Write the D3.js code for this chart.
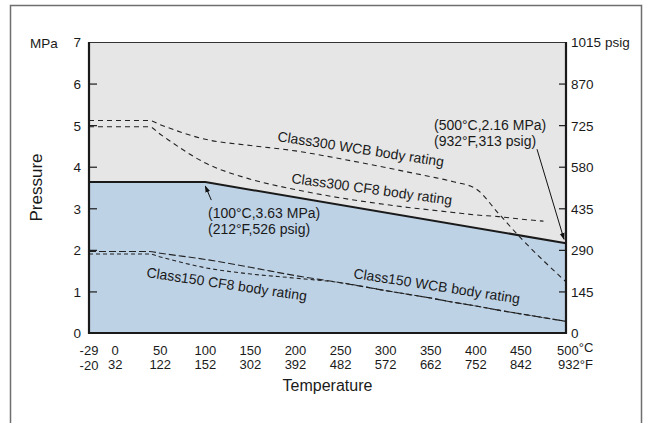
<!DOCTYPE html>
<html><head><meta charset="utf-8">
<script src="https://cdn.jsdelivr.net/npm/d3@7"></script>
<style>
html,body{margin:0;padding:0;background:#fff;}
svg{display:block;font-family:"Liberation Sans",Arial,Helvetica,sans-serif;}
</style></head>
<body>
<svg id="chart" width="648" height="423"></svg>
<script>
// ---- data ----
const tempTicksC = [-29, 0, 50, 100, 150, 200, 250, 300, 350, 400, 450, 500];
const tempTicksF = ["-20", "32", "122", "152", "302", "392", "482", "572", "662", "752", "842", "932"];
const mpaTicks = [0, 1, 2, 3, 4, 5, 6, 7];
const psigTicks = [0, 145, 290, 435, 580, 725, 870, 1015];

const class300Temp = [-29, 100, 500];
const class300Rating = [3.63, 3.63, 2.16];

const wcb300Temp = [-29, 38, 50, 100, 150, 200, 250, 300, 325, 350, 375, 400, 425, 450, 475, 500];
const wcb300 = [5.11, 5.11, 5.01, 4.66, 4.51, 4.38, 4.19, 3.98, 3.87, 3.76, 3.64, 3.47, 2.88, 2.28, 1.74, 1.23];

const cf8300Temp = [-29, 38, 50, 100, 150, 200, 250, 300, 325, 350, 375, 400, 425, 450, 475];
const cf8300 = [4.96, 4.96, 4.78, 4.09, 3.70, 3.45, 3.25, 3.09, 3.02, 2.96, 2.90, 2.84, 2.80, 2.74, 2.69];

const class150Temp = [-29, 38, 50, 100, 150, 200, 250, 300, 325, 350, 375, 400, 425, 450, 475, 500];
const wcb150 = [1.96, 1.96, 1.92, 1.77, 1.58, 1.38, 1.21, 1.02, 0.93, 0.84, 0.74, 0.65, 0.55, 0.46, 0.37, 0.28];
const cf8150 = [1.90, 1.90, 1.83, 1.57, 1.42, 1.32, 1.21, 1.02, 0.93, 0.84, 0.74, 0.65, 0.55, 0.46, 0.37, 0.28];

const annotLow = {t: 100, p: 3.63, lines: ["(100°C,3.63 MPa)", "(212°F,526 psig)"]};
const annotHigh = {t: 500, p: 2.16, lines: ["(500°C,2.16 MPa)", "(932°F,313 psig)"]};

// ---- layout ----
const svg = d3.select("#chart");
const L = 89, R = 566, T = 42, B = 333;
const x = d3.scaleLinear().domain([-29, 500]).range([L, R]);
const y = d3.scaleLinear().domain([0, 7]).range([B, T]);
const yR = d3.scaleLinear().domain([0, 1015]).range([B, T]);

const defs = svg.append("defs");
defs.append("marker").attr("id", "arr").attr("viewBox", "0 0 10 10")
  .attr("refX", 9).attr("refY", 5).attr("markerWidth", 7).attr("markerHeight", 7)
  .attr("markerUnits", "userSpaceOnUse").attr("orient", "auto")
  .append("path").attr("d", "M0,1.5 L10,5 L0,8.5 Z").attr("fill", "#111");

// outer frame
svg.append("path").attr("d", "M10.5,423 V5.5 H641.5 V423")
  .attr("fill", "none").attr("stroke", "#6e6e6e").attr("stroke-width", 1.5);

// plot background
svg.append("rect").attr("x", L).attr("y", T).attr("width", R - L).attr("height", B - T)
  .attr("fill", "#e6e6e6");

// blue area under class300 rating
const ptsSolid = class300Temp.map((t, i) => [t, class300Rating[i]]);
svg.append("path").datum(ptsSolid)
  .attr("d", d3.area().x(d => x(d[0])).y0(y(0)).y1(d => y(d[1])))
  .attr("fill", "#bed2e6");

const lineMono = d3.line().x(d => x(d[0])).y(d => y(d[1])).curve(d3.curveMonotoneX);
function dashed(temps, vals, dash) {
  svg.append("path").datum(temps.map((t, i) => [t, vals[i]]))
    .attr("d", lineMono).attr("fill", "none").attr("stroke", "#222")
    .attr("stroke-width", 1.1).attr("stroke-dasharray", dash);
}
dashed(wcb300Temp, wcb300, "5,4");
dashed(cf8300Temp, cf8300, "5,4");
dashed(class150Temp, wcb150, "7,3");
dashed(class150Temp, cf8150, "4,3");

// solid line
svg.append("path").datum(ptsSolid)
  .attr("d", d3.line().x(d => x(d[0])).y(d => y(d[1])))
  .attr("fill", "none").attr("stroke", "#1a1a1a").attr("stroke-width", 2);

// axes frame
svg.append("line").attr("x1", L).attr("x2", R).attr("y1", T + 0.5).attr("y2", T + 0.5)
  .attr("stroke", "#333").attr("stroke-width", 1.2);
svg.append("path").attr("d", `M${L},${T} V${B} H${R} V${T}`)
  .attr("fill", "none").attr("stroke", "#1a1a1a").attr("stroke-width", 2.2);

// left axis
const leftAxis = d3.axisLeft(y).tickValues(mpaTicks).tickSize(-8).tickPadding(8)
  .tickFormat(d3.format("d"));
const gL = svg.append("g").attr("transform", `translate(${L},0)`).call(leftAxis);
gL.select(".domain").remove();
gL.selectAll(".tick line").attr("stroke", "#1a1a1a").attr("stroke-width", 1.2)
  .filter(d => d === 0 || d === 7).remove();
gL.selectAll(".tick text").attr("font-size", 13.5).attr("fill", "#1a1a1a")
  .attr("font-family", "Liberation Sans, Arial, sans-serif").attr("dy", "0.36em");

// right axis
const rightAxis = d3.axisRight(yR).tickValues(psigTicks).tickSize(-7).tickPadding(13)
  .tickFormat(d3.format("d"));
const gR = svg.append("g").attr("transform", `translate(${R},0)`).call(rightAxis);
gR.select(".domain").remove();
gR.selectAll(".tick line").attr("stroke", "#1a1a1a").attr("stroke-width", 1.2)
  .filter(d => d === 0 || d === 1015).remove();
gR.selectAll(".tick text").attr("font-size", 13.5).attr("fill", "#1a1a1a")
  .attr("font-family", "Liberation Sans, Arial, sans-serif").attr("dy", "0.36em").attr("x", 5);

// units
svg.append("text").attr("x", 30).attr("y", 48).attr("font-size", 13.5).attr("fill", "#1a1a1a").text("MPa");
svg.append("text").attr("x", 605).attr("y", 47).attr("font-size", 13.5).attr("fill", "#1a1a1a").text("psig");

// bottom tick labels (two rows)
const gB = svg.append("g").attr("font-size", 13).attr("fill", "#1a1a1a");
tempTicksC.forEach((t, i) => {
  const last = i === tempTicksC.length - 1;
  const tx = gB.append("text").attr("y", 355);
  const fx = gB.append("text").attr("y", 369);
  if (last) {
    tx.attr("x", x(t) - 9).attr("text-anchor", "start");
    tx.append("tspan").text(String(t));
    tx.append("tspan").attr("dy", -3).text("°C");
    fx.attr("x", x(t) - 8).attr("text-anchor", "start").text(tempTicksF[i] + "°F");
  } else {
    tx.attr("x", x(t)).attr("text-anchor", "middle").text(String(t));
    fx.attr("x", x(t)).attr("text-anchor", "middle").attr("dy", i === 0 ? 1 : 0).text(tempTicksF[i]);
  }
});

// axis titles
svg.append("text").attr("x", (L + R) / 2).attr("y", 391).attr("text-anchor", "middle")
  .attr("font-size", 16).attr("fill", "#1a1a1a").text("Temperature");
svg.append("text").attr("transform", `translate(42,${(T + B) / 2}) rotate(-90)`)
  .attr("text-anchor", "middle").attr("font-size", 17).attr("fill", "#1a1a1a").text("Pressure");

// series labels
function rotLabel(txt, px, py, ang) {
  svg.append("text").attr("transform", `translate(${px},${py}) rotate(${ang})`)
    .attr("font-size", 14).attr("fill", "#1a1a1a").text(txt);
}
rotLabel("Class300 WCB body rating", 277, 141, 8.8);
rotLabel("Class300 CF8 body rating", 291, 183, 7.8);
rotLabel("Class150 CF8 body rating", 146, 277, 8.5);
rotLabel("Class150 WCB body rating", 353, 278, 8.8);

// annotations
function annot(a, tx, ty, from, to) {
  const t = svg.append("text").attr("font-size", 14).attr("fill", "#1a1a1a");
  a.lines.forEach((s, i) => t.append("tspan").attr("x", tx).attr("y", ty + i * 16).text(s));
  svg.append("line").attr("x1", from[0]).attr("y1", from[1]).attr("x2", to[0]).attr("y2", to[1])
    .attr("stroke", "#111").attr("stroke-width", 1).attr("marker-end", "url(#arr)");
}
annot(annotLow, 208, 218, [x(annotLow.t) + 6, y(annotLow.p) + 18], [x(annotLow.t), y(annotLow.p) + 4]);
annot(annotHigh, 434, 130, [x(annotHigh.t) - 29, y(annotHigh.p) - 94], [x(annotHigh.t) - 2, y(annotHigh.p) - 4]);
</script>
</body></html>
